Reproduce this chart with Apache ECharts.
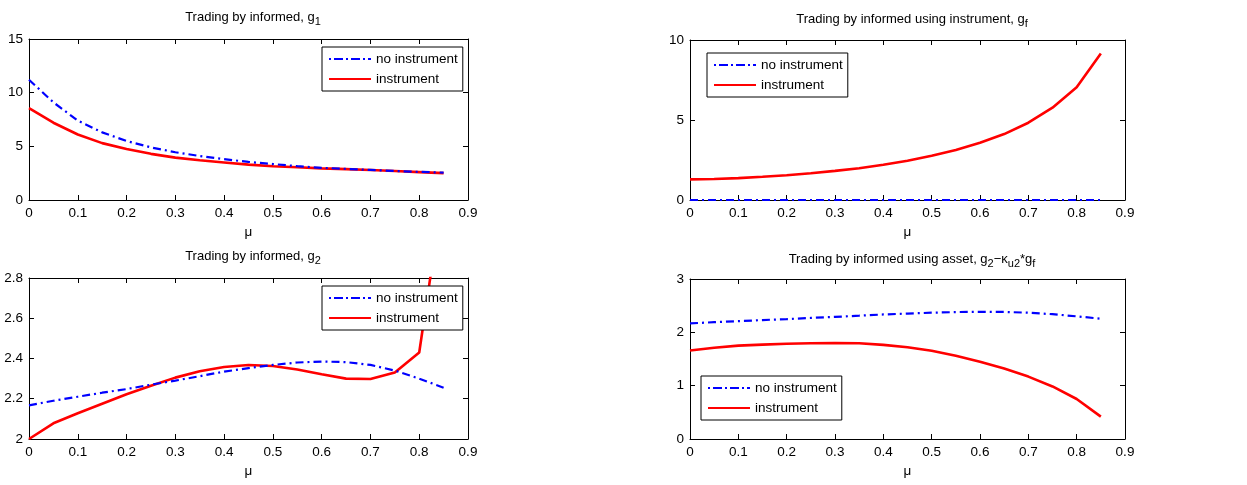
<!DOCTYPE html>
<html>
<head>
<meta charset="utf-8">
<script src="https://cdn.jsdelivr.net/npm/echarts@6/dist/echarts.min.js"></script>
<style>
  html, body { margin: 0; padding: 0; background: #fff; }
  #chart { width: 1247px; height: 485px; }
</style>
</head>
<body>
<div id="chart"></div>
<script>
// mu grid: 0, 0.05, ..., 0.85
const mu = [0, 0.05, 0.1, 0.15, 0.2, 0.25, 0.3, 0.35, 0.4, 0.45, 0.5, 0.55, 0.6, 0.65, 0.7, 0.75, 0.8, 0.85];

// g1: trading by informed
const g1NoInstrument = [11.2, 9.1, 7.4, 6.3, 5.5, 4.9, 4.45, 4.1, 3.8, 3.55, 3.35, 3.15, 3.0, 2.9, 2.8, 2.7, 2.62, 2.55];
const g1Instrument   = [8.55, 7.2, 6.1, 5.3, 4.75, 4.3, 3.95, 3.7, 3.5, 3.3, 3.15, 3.05, 2.95, 2.88, 2.8, 2.7, 2.6, 2.5];

// gf: trading by informed using instrument
const gfNoInstrument = [0, 0, 0, 0, 0, 0, 0, 0, 0, 0, 0, 0, 0, 0, 0, 0, 0, 0];
const gfInstrument   = [1.29, 1.31, 1.37, 1.45, 1.55, 1.67, 1.82, 1.98, 2.2, 2.45, 2.77, 3.13, 3.58, 4.12, 4.83, 5.77, 7.04, 9.15];

// g2: trading by informed
const g2NoInstrument = [2.167, 2.19, 2.21, 2.23, 2.248, 2.27, 2.29, 2.312, 2.335, 2.352, 2.368, 2.38, 2.385, 2.382, 2.368, 2.34, 2.30, 2.255];
const g2Instrument   = [2.0, 2.078, 2.128, 2.175, 2.222, 2.265, 2.305, 2.337, 2.358, 2.368, 2.363, 2.345, 2.322, 2.3, 2.298, 2.33, 2.43, 3.25];

// g2 - kappa_u2 * gf: trading by informed using asset
const assetNoInstrument = [2.167, 2.19, 2.21, 2.23, 2.248, 2.27, 2.29, 2.312, 2.335, 2.352, 2.368, 2.38, 2.385, 2.382, 2.368, 2.34, 2.30, 2.255];
const assetInstrument   = [1.66, 1.71, 1.75, 1.77, 1.785, 1.795, 1.80, 1.795, 1.765, 1.72, 1.655, 1.56, 1.45, 1.32, 1.17, 0.985, 0.75, 0.42];

// axis ranges
const xTicks = { min: 0, max: 0.9, interval: 0.1 };
const yRanges = [
  { min: 0, max: 15, interval: 5 },
  { min: 0, max: 10, interval: 5 },
  { min: 2, max: 2.8, interval: 0.2 },
  { min: 0, max: 3, interval: 1 }
];

const seriesNames = ['no instrument', 'instrument'];
const FONT = '"Liberation Sans", Arial, Helvetica, sans-serif';

// legend samples: dash-dot stroke and solid stroke drawn as filled paths
const legendIcons = [
  'path://M0,0h2v2h-2z M5,0h9v2h-9z M17,0h2v2h-2z M22,0h9v2h-9z M34,0h2v2h-2z M39,0h3v2h-3z',
  'path://M0,0h42v2h-42z'
];

const panels = [
  { grid: { left: 29, top: 39, width: 439, height: 161 }, y: yRanges[0], data: [g1NoInstrument, g1Instrument],
    title: '{t|Trading by informed, g}{s|1}', titlePos: { x: 248, y: 2 },
    legend: { left: 322, top: 47 } },
  { grid: { left: 690, top: 40, width: 435, height: 160 }, y: yRanges[1], data: [gfNoInstrument, gfInstrument],
    title: '{t|Trading by informed using instrument, g}{s|f}', titlePos: { x: 907, y: 4 },
    legend: { left: 707, top: 53 } },
  { grid: { left: 29, top: 278, width: 439, height: 161 }, y: yRanges[2], data: [g2NoInstrument, g2Instrument],
    title: '{t|Trading by informed, g}{s|2}', titlePos: { x: 248, y: 241 },
    legend: { left: 322, top: 286 } },
  { grid: { left: 690, top: 279, width: 435, height: 160 }, y: yRanges[3], data: [assetNoInstrument, assetInstrument],
    title: '{t|Trading by informed using asset, g}{s|2}{t|\u2212\u03ba}{s|u2}{t|*g}{s|f}', titlePos: { x: 907, y: 244 },
    legend: { left: 701, top: 376 } }
];

const option = {
  animation: false,
  backgroundColor: '#fff',
  textStyle: { fontFamily: FONT },
  title: [], grid: [], xAxis: [], yAxis: [], series: [], legend: []
};

const tickStyle = { show: true, inside: true, length: 5, lineStyle: { color: '#000', width: 1 } };
const lineStyleAxis = { show: true, onZero: false, lineStyle: { color: '#000', width: 1 } };
const fmt = v => String(Math.round(v * 10) / 10);

panels.forEach((p, i) => {
  option.grid.push(Object.assign({ show: false, containLabel: false }, p.grid));

  option.title.push({
    text: p.title,
    left: p.titlePos.x, top: p.titlePos.y, textAlign: 'center',
    textStyle: {
      fontWeight: 'normal',
      rich: {
        t: { fontSize: 13, color: '#000', fontFamily: FONT, fontWeight: 'normal' },
        s: { fontSize: 11, color: '#000', fontFamily: FONT, fontWeight: 'normal', padding: [9, 0, 0, 0] }
      }
    }
  });

  // bottom x axis with labels and mu name
  option.xAxis.push({
    type: 'value', gridIndex: i, position: 'bottom',
    min: xTicks.min, max: xTicks.max, interval: xTicks.interval,
    axisLine: lineStyleAxis, axisTick: tickStyle, splitLine: { show: false },
    axisLabel: { color: '#000', fontSize: 13.5, fontFamily: FONT, margin: 6, formatter: fmt },
    name: '\u03bc', nameLocation: 'middle', nameGap: 25,
    nameTextStyle: { color: '#000', fontSize: 13.5, fontFamily: FONT }
  });
  // top x axis (box edge)
  option.xAxis.push({
    type: 'value', gridIndex: i, position: 'top',
    min: xTicks.min, max: xTicks.max, interval: xTicks.interval,
    axisLine: lineStyleAxis, axisTick: tickStyle, splitLine: { show: false },
    axisLabel: { show: false }
  });
  // left y axis with labels
  option.yAxis.push({
    type: 'value', gridIndex: i, position: 'left',
    min: p.y.min, max: p.y.max, interval: p.y.interval,
    axisLine: lineStyleAxis, axisTick: tickStyle, splitLine: { show: false },
    axisLabel: { color: '#000', fontSize: 13.5, fontFamily: FONT, margin: 6, formatter: fmt }
  });
  // right y axis (box edge)
  option.yAxis.push({
    type: 'value', gridIndex: i, position: 'right',
    min: p.y.min, max: p.y.max, interval: p.y.interval,
    axisLine: lineStyleAxis, axisTick: tickStyle, splitLine: { show: false },
    axisLabel: { show: false }
  });

  p.data.forEach((vals, k) => {
    option.series.push({
      type: 'line', name: seriesNames[k],
      xAxisIndex: 2 * i, yAxisIndex: 2 * i,
      data: mu.map((x, j) => [x, vals[j]]),
      symbol: 'none', showSymbol: false, clip: true, z: k === 0 ? 3 : 2,
      lineStyle: k === 0
        ? { color: '#0000ff', width: 2.2, type: [8, 4, 2, 4] }
        : { color: '#ff0000', width: 2.6, type: 'solid' },
      itemStyle: { color: k === 0 ? '#0000ff' : '#ff0000' }
    });
  });

  option.legend.push({
    orient: 'vertical', left: p.legend.left, top: p.legend.top,
    data: seriesNames.map((n, k) => ({ name: n, icon: legendIcons[k] })),
    backgroundColor: '#fff', borderColor: '#000', borderWidth: 1, borderRadius: 0,
    padding: [5, 5, 5, 7], itemGap: 6, itemWidth: 42, itemHeight: 3,
    selectedMode: false,
    textStyle: { color: '#000', fontSize: 13.5, fontFamily: FONT, lineHeight: 14, height: 14 }
  });
});

const chart = echarts.init(document.getElementById('chart'), null, { renderer: 'canvas' });
chart.setOption(option);
</script>
</body>
</html>
